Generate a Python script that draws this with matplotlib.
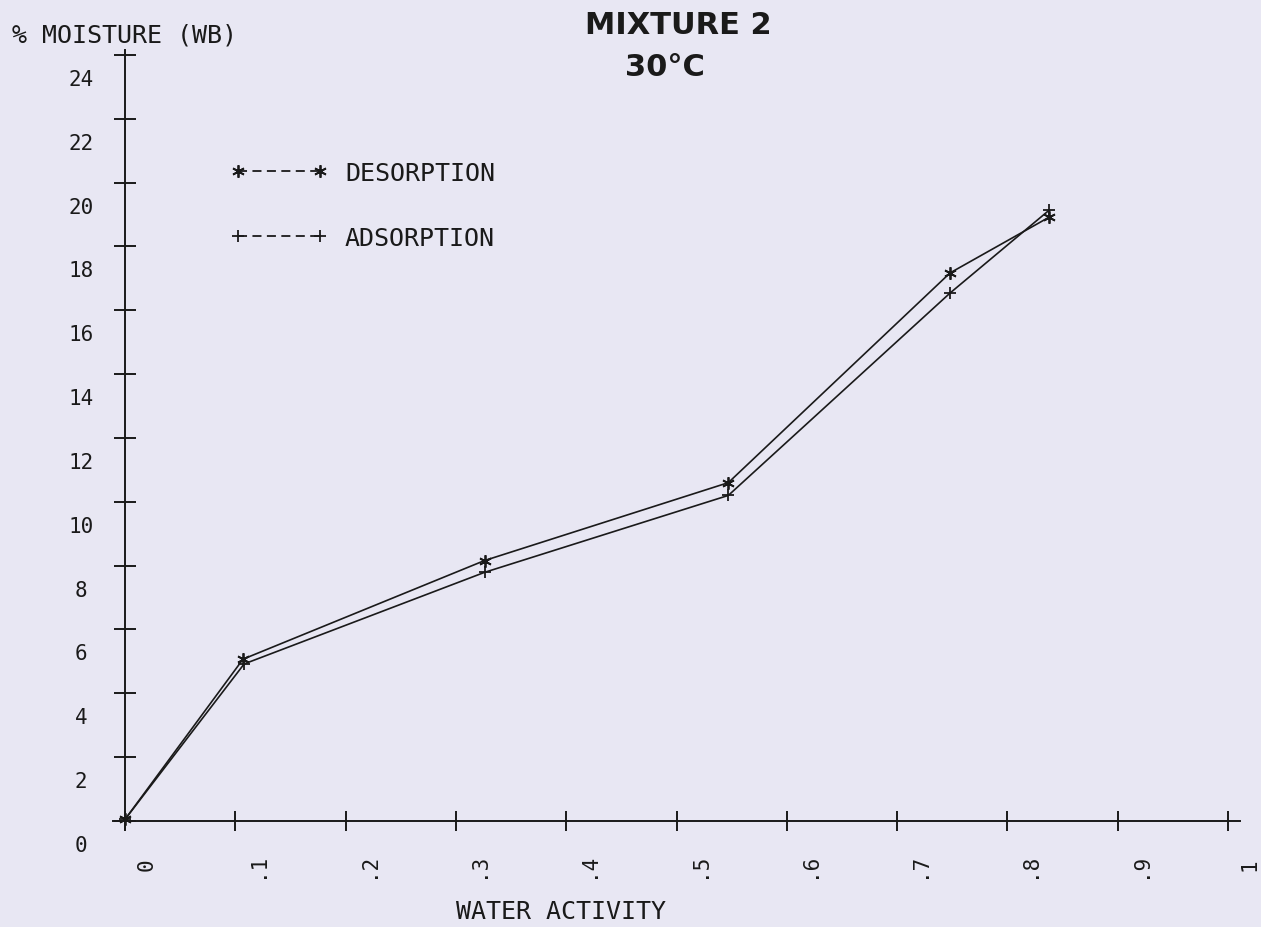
#!/usr/bin/env python3

# sorption isotherm, mixture 2 at 30 C (plotter style)
import numpy as np
import matplotlib
matplotlib.use("Agg")
import matplotlib.pyplot as plt
from matplotlib.transforms import ScaledTranslation

# data
aw_des = [0.0, 0.107, 0.326, 0.547, 0.748, 0.838]
m_des = [0.05, 5.07, 8.16, 10.6, 17.17, 18.92]
aw_ads = [0.0, 0.108, 0.326, 0.547, 0.748, 0.838]
m_ads = [0.05, 4.92, 7.79, 10.2, 16.54, 19.14]

xticks = [0.0, 0.1, 0.2, 0.3, 0.4, 0.5, 0.6, 0.7, 0.8, 0.9, 1.0]
xlabels = ["0", ".1", ".2", ".3", ".4", ".5", ".6", ".7", ".8", ".9", "1"]
yticks = [0, 2, 4, 6, 8, 10, 12, 14, 16, 18, 20, 22, 24]
ylabels = [str(v) for v in yticks]

bg = "#e8e7f3"
ink = "#1a1a1a"
mono = "DejaVu Sans Mono"

W, H = 1261, 928
fig = plt.figure(figsize=(W / 100, H / 100), dpi=100, facecolor=bg)

# axes placed so 0 -> px 125, 1 -> px 1228 ; 0 -> py 822, 24 -> py 56
xlim = (-0.011, 1.011)
ylim = (-0.25, 24.15)
xs = 1103.0
ys = 31.92
left = 125 + xlim[0] * xs
right = 125 + xlim[1] * xs
bottom = 822 - ylim[0] * ys
top = 822 - ylim[1] * ys
ax = fig.add_axes([left / W, 1 - bottom / H, (right - left) / W, (bottom - top) / H])
ax.set_facecolor(bg)
ax.set_xlim(*xlim)
ax.set_ylim(*ylim)

for s in ["top", "right"]:
    ax.spines[s].set_visible(False)
ax.spines["left"].set_position(("data", 0))
ax.spines["bottom"].set_position(("data", 0))
for s in ["left", "bottom"]:
    ax.spines[s].set_color(ink)
    ax.spines[s].set_linewidth(1.4)

ax.set_xticks(xticks)
ax.set_yticks(yticks)
ax.tick_params(axis="x", direction="inout", length=14.5, width=1.4, color=ink, labelbottom=False)
ax.tick_params(axis="y", direction="inout", length=16.5, width=1.4, color=ink, labelleft=False)

# plotter put its labels offset from the ticks
yoff = ax.transData + ScaledTranslation(-0.44, -0.24, fig.dpi_scale_trans)
for v, lab in zip(yticks, ylabels):
    ax.text(0, v, lab, transform=yoff, ha="center", va="center",
            fontsize=15, family=mono, color=ink, clip_on=False)
xoff = ax.transData + ScaledTranslation(0.22, -0.43, fig.dpi_scale_trans)
for v, lab in zip(xticks, xlabels):
    ax.text(v, 0, lab, transform=xoff, ha="center", va="center", rotation=90,
            fontsize=15, family=mono, color=ink, clip_on=False)

# the two curves
ax.plot(aw_des, m_des, color=ink, lw=1.2, marker=(6, 2, 0), ms=9, mew=1.3,
        label="DESORPTION", clip_on=False)
ax.plot(aw_ads, m_ads, color=ink, lw=1.2, marker="+", ms=9, mew=1.3,
        label="ADSORPTION", clip_on=False)

# legend drawn as "*----* DESORPTION"
h1, = ax.plot([], [], color=ink, lw=1.3, ls=(0, (5, 3)), marker=(6, 2, 0), ms=9, mew=1.3)
h2, = ax.plot([], [], color=ink, lw=1.3, ls=(0, (5, 3)), marker="+", ms=9, mew=1.3)
leg = fig.legend([h1, h2], ["DESORPTION", "ADSORPTION"], loc="upper left",
                 bbox_to_anchor=(230 / W, 1 - 162 / H), frameon=False, numpoints=2,
                 handlelength=3.9, handletextpad=0.7, labelspacing=1.64,
                 borderpad=0, borderaxespad=0,
                 prop={"family": mono, "size": 18})
for t in leg.get_texts():
    t.set_color(ink)

# titles and axis names
fig.text(678 / W, 1 - 25 / H, "MIXTURE 2", ha="center", va="center",
         fontsize=22, fontweight="bold", family="DejaVu Sans", color=ink)
fig.text(665 / W, 1 - 68 / H, "30°C", ha="center", va="center",
         fontsize=22, fontweight="bold", family="DejaVu Sans", color=ink)
fig.text(12 / W, 1 - 35 / H, "% MOISTURE (WB)", ha="left", va="center",
         fontsize=18, family=mono, color=ink)
fig.text(561 / W, 1 - 912 / H, "WATER ACTIVITY", ha="center", va="center",
         fontsize=18, family=mono, color=ink)

fig.savefig("out.png", dpi=100, facecolor=bg)
